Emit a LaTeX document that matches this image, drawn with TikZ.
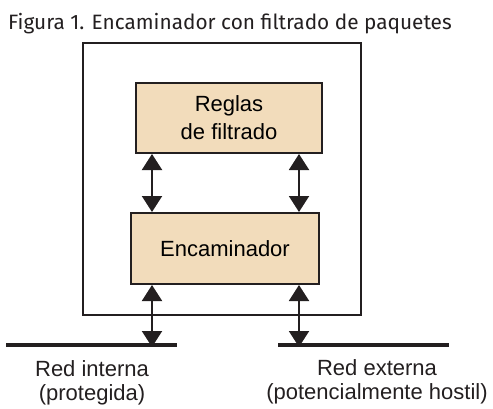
\documentclass[tikz,border=0pt]{standalone}
\usepackage{fontspec}
\setmainfont{Liberation Sans}
\newfontfamily\titulo{Fira Sans}
\usetikzlibrary{positioning,arrows.meta}
\definecolor{beige}{HTML}{F2DCBB}
\definecolor{tinta}{HTML}{231F20}
\tikzset{
	caja/.style={draw=tinta,line width=2pt,fill=beige,align=center,inner sep=0pt,
		font=\fontsize{22}{28}\selectfont},
	flecha/.style={draw=tinta,line width=2pt,
		{Triangle[width=20pt,length=16pt]}-{Triangle[width=20pt,length=16pt]}},
	linea/.style={draw=tinta,line width=4pt},
	etiqueta/.style={align=center,inner sep=0pt,text=tinta,
		font=\fontsize{22}{24}\selectfont}
}

\begin{document}
\begin{tikzpicture}[x=1pt,y=-1pt]
	\def\xA{152};
	\def\xB{299};
	\def\yRed{345};
\useasboundingbox (0,0) rectangle (493,408); % Fixes the picture size...

%Titulo
\node[anchor=base west,inner sep=0pt,text=tinta,font=\titulo\fontsize{20.8}{22}\selectfont] (fig) at (8,29) {Figura 1. Encaminador con filtrado de paquetes};

%Cajas
\node[draw=tinta,line width=2pt,minimum width=278pt,minimum height=272pt] (equipo) at (222,179) {};
\node[caja,minimum width=186pt,minimum height=70pt] (reglas) at (229,118) {Reglas\\de filtrado};
\node[caja,minimum width=188pt,minimum height=71pt] (encam) at (225,248.5) {Encaminador};

%Redes
\coordinate (intA) at (6,\yRed);
\coordinate (intB) at (177,\yRed);
\coordinate (extA) at (278,\yRed);
\coordinate (extB) at (449,\yRed);
\draw[linea] (intA) -- (intB);
\draw[linea] (extA) -- (extB);

\node[etiqueta,anchor=base] (interna) at (92,400) {Red interna\\(protegida)};
\node[etiqueta,anchor=base] (externa) at (377,399) {Red externa\\(potencialmente hostil)};

%Flechas
\draw[flecha] (reglas.south -| \xA,0) -- (encam.north -| \xA,0);
\draw[flecha] (reglas.south -| \xB,0) -- (encam.north -| \xB,0);
\draw[flecha] (encam.south -| \xA,0) -- ([yshift=-2pt]intA -| \xA,0);
\draw[flecha] (encam.south -| \xB,0) -- ([yshift=-2pt]extA -| \xB,0);

\end{tikzpicture}
\end{document}
